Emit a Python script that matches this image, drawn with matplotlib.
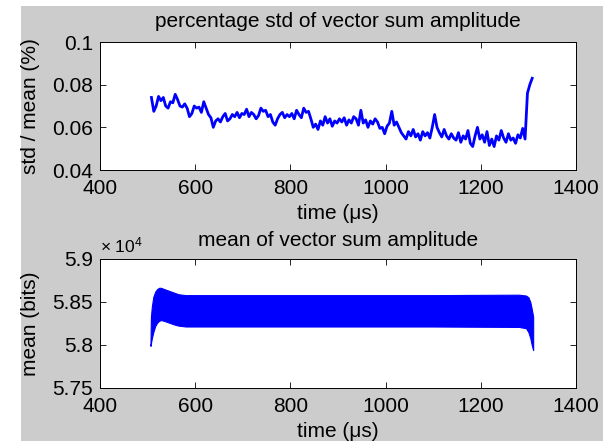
import numpy as np
import matplotlib
matplotlib.use('Agg')
import matplotlib.pyplot as plt
from matplotlib.patches import Rectangle
from matplotlib.ticker import FuncFormatter

plt.rcParams['font.family'] = ['Liberation Sans', 'DejaVu Sans']
plt.rcParams['mathtext.fontset'] = 'custom'
plt.rcParams['mathtext.rm'] = 'Liberation Sans'
plt.rcParams['mathtext.default'] = 'regular'

# --- data ----------------------------------------------------------------------
# top panel: std / mean (%) sampled every ~5 us from 508 to 1308 us
std_pct = [
    0.0740, 0.0675, 0.0700, 0.0745, 0.0725, 0.0740, 0.0700, 0.0690, 0.0720, 0.0715,
    0.0755, 0.0730, 0.0700, 0.0695, 0.0710, 0.0690, 0.0650, 0.0665, 0.0700, 0.0690,
    0.0695, 0.0670, 0.0720, 0.0690, 0.0660, 0.0645, 0.0600, 0.0630, 0.0640, 0.0625,
    0.0650, 0.0665, 0.0630, 0.0640, 0.0660, 0.0650, 0.0670, 0.0645, 0.0665, 0.0660,
    0.0685, 0.0650, 0.0670, 0.0660, 0.0640, 0.0655, 0.0690, 0.0675, 0.0680, 0.0650,
    0.0660, 0.0625, 0.0610, 0.0640, 0.0660, 0.0670, 0.0645, 0.0660, 0.0650, 0.0665,
    0.0640, 0.0680, 0.0660, 0.0645, 0.0690, 0.0670, 0.0675, 0.0640, 0.0600, 0.0615,
    0.0590, 0.0630, 0.0610, 0.0650, 0.0620, 0.0640, 0.0605, 0.0630, 0.0620, 0.0640,
    0.0625, 0.0645, 0.0610, 0.0635, 0.0620, 0.0650, 0.0640, 0.0610, 0.0680, 0.0620,
    0.0635, 0.0600, 0.0630, 0.0615, 0.0640, 0.0625, 0.0595, 0.0600, 0.0570, 0.0605,
    0.0620, 0.0675, 0.0610, 0.0625, 0.0600, 0.0575, 0.0560, 0.0545, 0.0580, 0.0560,
    0.0590, 0.0555, 0.0570, 0.0540, 0.0580, 0.0560, 0.0575, 0.0550, 0.0600, 0.0660,
    0.0600, 0.0575, 0.0555, 0.0590, 0.0560, 0.0545, 0.0570, 0.0550, 0.0540, 0.0575,
    0.0530, 0.0560, 0.0545, 0.0585, 0.0525, 0.0510, 0.0560, 0.0600, 0.0545, 0.0565,
    0.0530, 0.0580, 0.0515, 0.0545, 0.0510, 0.0560, 0.0540, 0.0585, 0.0550, 0.0530,
    0.0570, 0.0540, 0.0550, 0.0525, 0.0565, 0.0550, 0.0595, 0.0545, 0.0760, 0.0800,
    0.0830,
]
t_std = np.linspace(508, 1308, len(std_pct))

# bottom panel: envelope of the fast oscillation of the mean (bits)
t_env = [506, 507, 509, 512, 516, 520, 524, 528, 535, 545, 555, 565, 580,
         700, 900, 1100, 1280, 1295, 1300, 1304, 1307, 1310]
mean_upper = [58000, 58330, 58450, 58560, 58620, 58650, 58665, 58665, 58650, 58630, 58610, 58590, 58580,
              58580, 58580, 58580, 58585, 58575, 58555, 58500, 58420, 58330]
mean_lower = [57990, 58020, 58080, 58150, 58220, 58260, 58280, 58290, 58280, 58260, 58240, 58225, 58215,
              58215, 58215, 58215, 58210, 58195, 58150, 58080, 58000, 57940]

x_ticks = [400, 600, 800, 1000, 1200, 1400]
std_ticks = [0.04, 0.06, 0.08, 0.1]
mean_ticks = [57500, 58000, 58500, 59000]

# --- figure -------------------------------------------------------------------
fig = plt.figure(figsize=(6.03, 4.41), dpi=100, facecolor='white')
fig.patches.append(Rectangle((21 / 603, 0), 1, 1 - 6 / 441, transform=fig.transFigure,
                             facecolor='#cccccc', edgecolor='none', zorder=-10))

ax1 = fig.add_axes([100 / 603, 1 - 170 / 441, 476 / 603, 128 / 441])
ax2 = fig.add_axes([100 / 603, 1 - 388 / 441, 476 / 603, 129 / 441])

ax1.plot(t_std, std_pct, color='#0000ff', linewidth=2.0)
ax2.fill_between(t_env, mean_lower, mean_upper, color='#0000ff', linewidth=0.8, edgecolor='#0000ff')

for ax in (ax1, ax2):
    ax.set_facecolor('white')
    ax.set_xlim(400, 1400)
    ax.set_xticks(x_ticks)
    ax.tick_params(direction='in', top=True, right=True, length=4, width=0.6,
                   labelsize=15, pad=5)
    ax.tick_params(axis='x', pad=6.5)
    for s in ax.spines.values():
        s.set_linewidth(0.7)
    ax.set_xlabel('time (\u03bcs)', fontsize=15, labelpad=4)

ax1.set_ylim(0.04, 0.1)
ax1.set_yticks(std_ticks)
ax1.set_yticklabels(['0.04', '0.06', '0.08', '0.1'])
ax1.set_ylabel('std / mean (%)', fontsize=15)
ax1.yaxis.set_label_coords(-0.125, 0.5)
ax1.set_title('percentage std of vector sum amplitude', fontsize=15, pad=11)

ax2.set_ylim(57500, 59000)
ax2.set_yticks(mean_ticks)
ax2.yaxis.set_major_formatter(FuncFormatter(lambda v, p: f'{v / 1e4:g}'))
ax2.set_ylabel('mean (bits)', fontsize=15)
ax2.yaxis.set_label_coords(-0.125, 0.5)
ax2.set_title('mean of vector sum amplitude', fontsize=15, pad=9)
ax2.text(0.0, 1.03, '\u00d7 10$^{4}$', transform=ax2.transAxes, fontsize=12.5,
         ha='left', va='bottom')

fig.savefig('out.png', dpi=100, facecolor=fig.get_facecolor())
